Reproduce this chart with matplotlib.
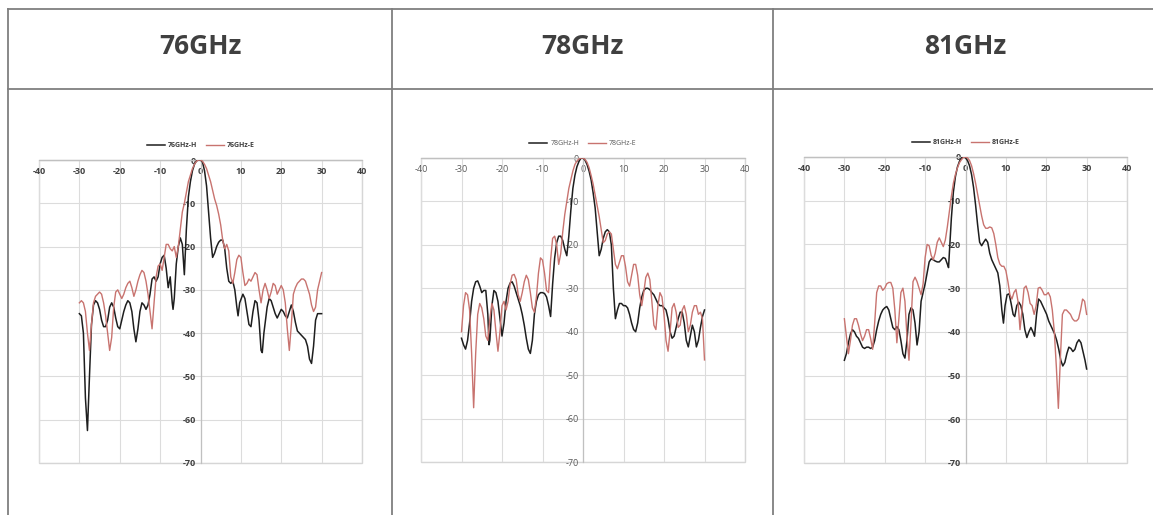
import numpy as np
import matplotlib
matplotlib.use('Agg')
import matplotlib.pyplot as plt
from matplotlib.lines import Line2D
from matplotlib.patches import Rectangle

plt.rcParams['axes.unicode_minus'] = False

# angle (deg) / level (dB) pairs
h76 = [(-30,-35.5),(-29.5,-36),(-29,-40),(-28.5,-55),(-28,-62.5),(-27.5,-50),(-27,-38),(-26.5,-33.5),(-26,-32.5),(-25.5,-33),
       (-25,-34.5),(-24.5,-37),(-24,-38.5),(-23.5,-38.5),(-23,-37),(-22.5,-34),(-22,-33),(-21.5,-34),(-21,-36.5),(-20.5,-38.5),
       (-20,-39),(-19.5,-37),(-19,-35),(-18.5,-33.5),(-18,-32.5),(-17.5,-33),(-17,-35),(-16.5,-39),(-16,-42),(-15.5,-39),
       (-15,-35),(-14.5,-33),(-14,-33.5),(-13.5,-34.5),(-13,-33.5),(-12.5,-31),(-12,-27.5),(-11.5,-27),(-11,-28),(-10.5,-27),
       (-10,-24),(-9.5,-22.5),(-9,-22),(-8.5,-25),(-8,-29.5),(-7.5,-27),(-7,-33),(-6.8,-34.5),(-6.5,-32),(-6,-24),
       (-5.5,-20),(-5,-18),(-4.5,-19.5),(-4,-26.5),(-3.5,-16),(-3,-8.5),(-2.5,-5),(-2,-2.5),(-1.5,-1),(-1,-0.2),
       (-0.5,0),(0,0),(0.5,-0.5),(1,-2.5),(1.5,-6),(2,-12),(2.5,-18),(3,-22.5),(3.5,-21.5),(4,-20),
       (4.5,-19),(5,-18.5),(5.5,-18.5),(6,-20.5),(6.5,-25),(7,-28),(7.5,-28.5),(8,-28),(8.5,-30),(9,-34),
       (9.3,-36),(9.7,-33),(10.5,-31),(11,-32),(11.5,-35),(12,-38),(12.5,-38.5),(13,-35),(13.5,-32.5),(14,-33),
       (14.5,-37),(15,-44),(15.3,-44.5),(15.7,-40),(16.5,-34),(17,-32),(17.5,-32.5),(18,-34),(18.5,-35.5),(19,-36.5),
       (19.5,-35.5),(20,-34.5),(20.5,-35),(21,-36),(21.5,-36.5),(22,-35),(22.5,-33.5),(23,-35),(23.5,-37.5),(24,-39.5),
       (24.5,-40),(25,-40.5),(26,-41.5),(26.5,-43),(27,-46),(27.5,-47),(28,-43),(28.5,-37),(29,-35.5),(30,-35.5)]

e76 = [(-30,-33),(-29.5,-32.5),(-29,-33),(-28.5,-35),(-28,-40),(-27.5,-44),(-27,-38),(-26.5,-33),(-26,-31.5),(-25.5,-31),
       (-25,-30.5),(-24.5,-31),(-24,-33),(-23.5,-36),(-23,-40),(-22.5,-44),(-22,-41),(-21.5,-34),(-21,-30.5),(-20.5,-30),
       (-20,-31),(-19.5,-32),(-19,-31),(-18.5,-29.5),(-18,-28.5),(-17.5,-28),(-17,-29.5),(-16.5,-31.5),(-16,-30),(-15.5,-28),
       (-15,-26.5),(-14.5,-25.5),(-14,-26),(-13.5,-28),(-13,-31),(-12.5,-35),(-12,-39),(-11.5,-33),(-11,-27),(-10.5,-24.5),
       (-10,-24),(-9.5,-25.5),(-9,-22.5),(-8.5,-19.5),(-8,-19.5),(-7.5,-20.5),(-7,-21),(-6.5,-20),(-6,-22.5),(-5.5,-20),
       (-5,-16),(-4.5,-12),(-4,-10),(-3.5,-7.5),(-3,-5),(-2.5,-3.5),(-2,-2),(-1.5,-1),(-1,-0.3),(-0.5,0),
       (0,0),(0.5,-0.3),(1,-1),(1.5,-2),(2,-3.5),(2.5,-5),(3,-7),(3.5,-9),(4,-10.5),(4.5,-12.5),
       (5,-15),(5.5,-18.5),(6,-20.5),(6.5,-19.5),(7,-21),(7.5,-27),(8,-28.5),(8.5,-26),(9,-23),(9.5,-22),
       (10,-22.5),(10.5,-26),(11,-29),(11.5,-28.5),(12,-27.5),(12.5,-28),(13,-27),(13.5,-26),(14,-26.5),(14.5,-30),
       (15,-33),(15.5,-30),(16,-28.5),(16.5,-30),(17,-32),(17.5,-30.5),(18,-28.5),(18.5,-29),(19,-31),(19.5,-30),
       (20,-29),(20.5,-30),(21,-33),(21.5,-39),(22,-44),(22.5,-38),(23,-31),(23.5,-29.5),(24,-28.5),(24.5,-28),
       (25,-27.5),(25.5,-27.5),(26,-28),(26.5,-29.5),(27,-31),(27.5,-33.5),(28,-35),(28.5,-34),(29,-30),(29.5,-28),(30,-26)]

h78 = [(-30,-41.5),(-29.5,-43),(-29,-44),(-28.5,-42),(-28,-38),(-27.5,-33),(-27,-30),(-26.5,-28.5),(-26,-28.3),(-25.5,-29.5),
       (-25,-31),(-24.5,-30.5),(-24,-30.5),(-23.5,-36),(-23.2,-43),(-23,-42),(-22.5,-34),(-22,-30.5),(-21.5,-31),(-21,-33),
       (-20.5,-37),(-20,-41),(-19.5,-38),(-19,-33),(-18.5,-30),(-18,-28.8),(-17.5,-28.5),(-17,-29.5),(-16.5,-31),(-16,-32.5),
       (-15.5,-34),(-15,-36),(-14.5,-38.5),(-14,-41.5),(-13.5,-44),(-13,-45),(-12.5,-42),(-12,-36),(-11.5,-33),(-11,-31.5),
       (-10.5,-31),(-10,-31),(-9.5,-31.2),(-9,-32),(-8.5,-34),(-8,-36.5),(-7.5,-29),(-7,-23),(-6.5,-19.5),(-6,-18),
       (-5.5,-18),(-5,-19),(-4.5,-21),(-4,-22.5),(-3.5,-18),(-3,-12),(-2.5,-7),(-2,-4),(-1.5,-2),(-1,-0.8),
       (-0.5,0),(0,0),(0.5,-0.5),(1,-1.5),(1.5,-3),(2,-5),(2.5,-8),(3,-11.5),(3.5,-17),(4,-22.5),
       (4.5,-21),(5,-18.5),(5.5,-17),(6,-16.5),(6.5,-17),(7,-20),(7.5,-30),(8,-37),(8.5,-35),(9,-33.5),
       (9.5,-33.5),(10,-34),(10.5,-34),(11,-34.5),(11.5,-36),(12,-38),(12.5,-39.5),(13,-40),(13.5,-38),(14,-34.5),
       (14.5,-32),(15,-30.5),(15.5,-30),(16,-30),(16.5,-30.3),(17,-31),(17.5,-31.5),(18,-32.5),(18.5,-33.5),(19,-34),
       (19.5,-34),(20,-34.5),(20.5,-35),(21,-37),(21.5,-40),(22,-41.5),(22.5,-41),(23,-39),(23.5,-37),(24,-35.5),
       (24.5,-35.5),(25,-38),(25.5,-42),(26,-43.5),(26.5,-41),(27,-38.5),(27.5,-40),(28,-43.5),(28.5,-42),(29,-39),
       (29.5,-36.5),(30,-35)]

e78 = [(-30,-40),(-29.5,-34),(-29,-31),(-28.5,-31.5),(-28,-35),(-27.5,-45),(-27,-57.5),(-26.5,-45),(-26,-36),(-25.5,-33.5),
       (-25,-34.5),(-24.5,-37),(-24,-41),(-23.5,-42),(-23,-37),(-22.5,-33.5),(-22,-35),(-21.5,-40),(-21,-44.5),(-20.5,-40),
       (-20,-34),(-19.5,-33),(-19,-35),(-18.5,-33),(-18,-29),(-17.5,-27),(-17,-26.8),(-16.5,-28),(-16,-31.5),(-15.5,-33),
       (-15,-31),(-14.5,-28.5),(-14,-27),(-13.5,-28),(-13,-31),(-12.5,-34.5),(-12,-35.5),(-11.5,-32),(-11,-26.5),(-10.5,-23),
       (-10,-23.5),(-9.5,-26.5),(-9,-30.5),(-8.5,-31),(-8,-23.5),(-7.5,-18.5),(-7,-18),(-6.5,-20),(-6,-24.5),(-5.5,-22),
       (-5,-17),(-4.5,-13),(-4,-10),(-3.5,-7),(-3,-5),(-2.5,-3),(-2,-1.5),(-1.5,-0.7),(-1,-0.2),(-0.5,0),
       (0,0),(0.5,-0.3),(1,-1),(1.5,-2.2),(2,-4),(2.5,-6),(3,-8.5),(3.5,-11),(4,-13.5),(4.5,-16.5),
       (5,-19.5),(5.5,-19),(6,-17.5),(6.5,-17),(7,-17.5),(7.5,-21),(8,-24.5),(8.5,-25.5),(9,-24),(9.5,-22.5),
       (10,-22.5),(10.5,-25),(11,-28.5),(11.5,-29.5),(12,-27),(12.5,-24.5),(13,-24.5),(13.5,-27),(14,-31.5),(14.5,-34),
       (15,-31),(15.5,-27.5),(16,-26.5),(16.5,-28),(17,-33),(17.5,-38.5),(18,-39.5),(18.5,-34),(19,-31),(19.5,-32),
       (20,-36),(20.5,-42),(21,-44.5),(21.5,-40),(22,-34.5),(22.5,-33.5),(23,-35.5),(23.5,-39),(24,-38.5),(24.5,-35),
       (25,-34),(25.5,-36),(26,-40),(26.5,-38.5),(27,-35.5),(27.5,-34),(28,-34),(28.5,-36),(29,-35.5),(29.5,-37),(30,-46.5)]

h81 = [(-30,-46.5),(-29.5,-45),(-29,-42.5),(-28.5,-40.5),(-28,-39.5),(-27.5,-40),(-27,-41),(-26.5,-41.5),(-26,-42.5),(-25.5,-43.5),
       (-25,-43.8),(-24.5,-43.5),(-24,-43.5),(-23.5,-43.8),(-23,-43.5),(-22.5,-42),(-22,-39.5),(-21.5,-37.5),(-21,-36),(-20.5,-35),
       (-20,-34.5),(-19.5,-34.2),(-19,-35),(-18.5,-37),(-18,-39),(-17.5,-39.5),(-17,-38.8),(-16.5,-39.5),(-16,-42),(-15.5,-45),
       (-15,-46),(-14.5,-42),(-14,-36),(-13.5,-34.5),(-13,-35),(-12.5,-38),(-12,-43),(-11.5,-40),(-11,-33),(-10.5,-31),
       (-10,-29),(-9.5,-26.5),(-9,-24),(-8.5,-23.3),(-8,-23.5),(-7.5,-23.8),(-7,-24),(-6.5,-24),(-6,-23.5),(-5.5,-23),
       (-5,-23.2),(-4.5,-24.5),(-4.2,-25.3),(-4,-22),(-3.5,-14),(-3,-8),(-2.5,-4.5),(-2,-2.3),(-1.5,-1),(-1,-0.2),
       (-0.5,0),(0,-0.2),(0.5,-0.8),(1,-2),(1.5,-4),(2,-7),(2.5,-11),(3,-15.5),(3.5,-19.5),(4,-20.3),
       (4.5,-19.5),(5,-18.8),(5.5,-19.5),(6,-22),(6.5,-23.5),(7,-24.5),(7.5,-25.5),(8,-26.5),(8.5,-29.5),(9,-35),
       (9.4,-38),(9.8,-34),(10.3,-31.5),(10.8,-31.3),(11.3,-33.5),(11.8,-36),(12.2,-36.5),(12.7,-34),(13.2,-33.2),(13.7,-34),
       (14.2,-36),(14.7,-39.5),(15.2,-41.3),(15.7,-40),(16.2,-39),(16.7,-40),(17.1,-41),(17.6,-36),(18.1,-32.5),(18.6,-33),
       (19.1,-34),(19.6,-35),(20.1,-36),(20.6,-37.5),(21.1,-38.5),(21.6,-39.5),(22.1,-40.5),(22.6,-42),(23.1,-44),(23.6,-46.5),
       (24.1,-47.8),(24.6,-47),(25.1,-45),(25.6,-43.5),(26.1,-43.8),(26.6,-44.5),(27.1,-44),(27.6,-42.5),(28.1,-41.8),(28.6,-42.5),
       (29.1,-44.5),(29.6,-46.5),(30,-48.5)]

e81 = [(-30,-37),(-29.5,-41),(-29,-45),(-28.5,-42),(-28,-38.5),(-27.5,-37),(-27,-37),(-26.5,-38.5),(-26,-40.5),(-25.5,-42),
       (-25,-41),(-24.5,-39.5),(-24,-39.5),(-23.5,-41.5),(-23,-44),(-22.5,-38),(-22,-31),(-21.5,-29.5),(-21,-29.5),(-20.5,-30.5),
       (-20,-30),(-19.5,-29),(-19,-28.7),(-18.5,-28.7),(-18,-30),(-17.5,-35),(-17,-42.5),(-16.5,-37),(-16,-31),(-15.5,-30),
       (-15,-33),(-14.5,-41),(-14,-46.5),(-13.5,-38),(-13,-28.5),(-12.5,-27.5),(-12,-28.5),(-11.5,-30),(-11,-31.5),(-10.5,-29),
       (-10,-23),(-9.5,-20),(-9,-20.3),(-8.5,-22.5),(-8,-23.5),(-7.5,-22),(-7,-19.5),(-6.5,-18.5),(-6,-19.5),(-5.5,-20.5),
       (-5,-19),(-4.5,-16),(-4,-12.5),(-3.5,-9),(-3,-6),(-2.5,-4),(-2,-2.5),(-1.5,-1.3),(-1,-0.6),(-0.5,-0.1),
       (0,0),(0.5,-0.2),(1,-0.8),(1.5,-2),(2,-3.8),(2.5,-6),(3,-8.5),(3.5,-11),(4,-13.5),(4.5,-15.5),
       (5,-16.3),(5.5,-16.3),(6,-16),(6.5,-16.2),(7,-17.5),(7.5,-20),(8,-23),(8.5,-24.5),(9,-25),(9.5,-25),
       (10,-26),(10.5,-28.5),(11,-31.5),(11.5,-32.5),(12,-31),(12.5,-30.3),(13,-33),(13.5,-39.5),(14,-35),(14.5,-30),
       (15,-29.5),(15.5,-31),(16,-33.5),(16.5,-34),(17,-36),(17.5,-34),(18,-30),(18.5,-29.8),(19,-30.5),(19.5,-31.5),
       (20,-31.5),(20.5,-31),(21,-32),(21.5,-35),(22,-40),(22.5,-48),(23,-57.5),(23.5,-46),(24,-36),(24.5,-35),
       (25,-35),(25.5,-35.5),(26,-36),(26.5,-37),(27,-37.5),(27.5,-37.5),(28,-37),(28.5,-35),(29,-32.5),(29.5,-33),(30,-36)]

freqs = ['76GHz', '78GHz', '81GHz']
series = [(h76, e76), (h78, e78), (h81, e81)]
x_ticks = list(range(-40, 41, 10))
y_ticks = list(range(-70, 1, 10))

W, H = 1153, 515
fig = plt.figure(figsize=(W / 100, H / 100), dpi=100)

# table grid
grid_c = '#7f7f7f'
def hline(y, x0, x1):
    fig.add_artist(Line2D([x0 / W, x1 / W], [1 - y / H, 1 - y / H], color=grid_c, lw=1.3))
def vline(x, y0, y1):
    fig.add_artist(Line2D([x / W, x / W], [1 - y0 / H, 1 - y1 / H], color=grid_c, lw=1.3))

hline(9, 8, W)
hline(89, 8, W)
for xv in (8, 392, 773):
    vline(xv, 9, H)

col_centers = [200, 582.5, 965]
for xc, name in zip(col_centers, freqs):
    fig.text(xc / W, 1 - 47 / H, name, ha='center', va='center', fontsize=19,
             fontweight='bold', color='#404040', family='Open Sans')

# plot areas in pixels: left, top(0 dB), right, bottom(-70 dB)
boxes = [(39, 160, 362, 463), (421, 158, 745, 462), (804, 157, 1127, 463)]
bold = [True, False, True]

for (l, t, r, b), name, (hs, es), bw in zip(boxes, freqs, series, bold):
    ax = fig.add_axes([l / W, 1 - b / H, (r - l) / W, (b - t) / H])
    hx, hy = np.array(hs).T
    ex, ey = np.array(es).T
    ax.plot(hx, hy, color='#1e1e1e', lw=1.1, label=name + '-H', zorder=3)
    ax.plot(ex, ey, color='#c8736f', lw=1.0, label=name + '-E', zorder=3)
    ax.set_xlim(-40, 40)
    ax.set_ylim(-70, 0)
    ax.set_xticks(x_ticks)
    ax.set_yticks(y_ticks)
    ax.grid(True, color='#dcdcdc', lw=0.8)
    ax.set_axisbelow(True)
    # light frame round the plot area, kept under the tick labels
    ax.add_patch(Rectangle((0, 0), 1, 1, transform=ax.transAxes, fill=False,
                           edgecolor='#d6d6d6', lw=1.0, clip_on=False, zorder=0.3))
    ax.spines['bottom'].set_position(('data', 0))
    ax.spines['left'].set_position(('data', 0))
    for s in ('top', 'right'):
        ax.spines[s].set_visible(False)
    for s in ('bottom', 'left'):
        ax.spines[s].set_color('#c0c0c0')
        ax.spines[s].set_linewidth(0.9)
    txt_c = '#404040' if bw else '#595959'
    wt = 'bold' if bw else 'normal'
    ax.tick_params(axis='x', length=0, pad=5, labelsize=6.5, labelcolor=txt_c)
    ax.tick_params(axis='y', length=0, pad=3, labelsize=6.5, labelcolor=txt_c)
    for lab in ax.get_xticklabels() + ax.get_yticklabels():
        lab.set_fontweight(wt)
        lab.set_family('Open Sans')
    leg = ax.legend(loc='lower center', bbox_to_anchor=(0.5, 1.035), ncol=2, frameon=False,
                    handlelength=2.6, handletextpad=0.4, columnspacing=1.3,
                    borderpad=0, borderaxespad=0,
                    prop={'size': 5, 'weight': wt, 'family': 'Open Sans'})
    for tx in leg.get_texts():
        tx.set_color(txt_c)

fig.savefig('out.png', dpi=100)
